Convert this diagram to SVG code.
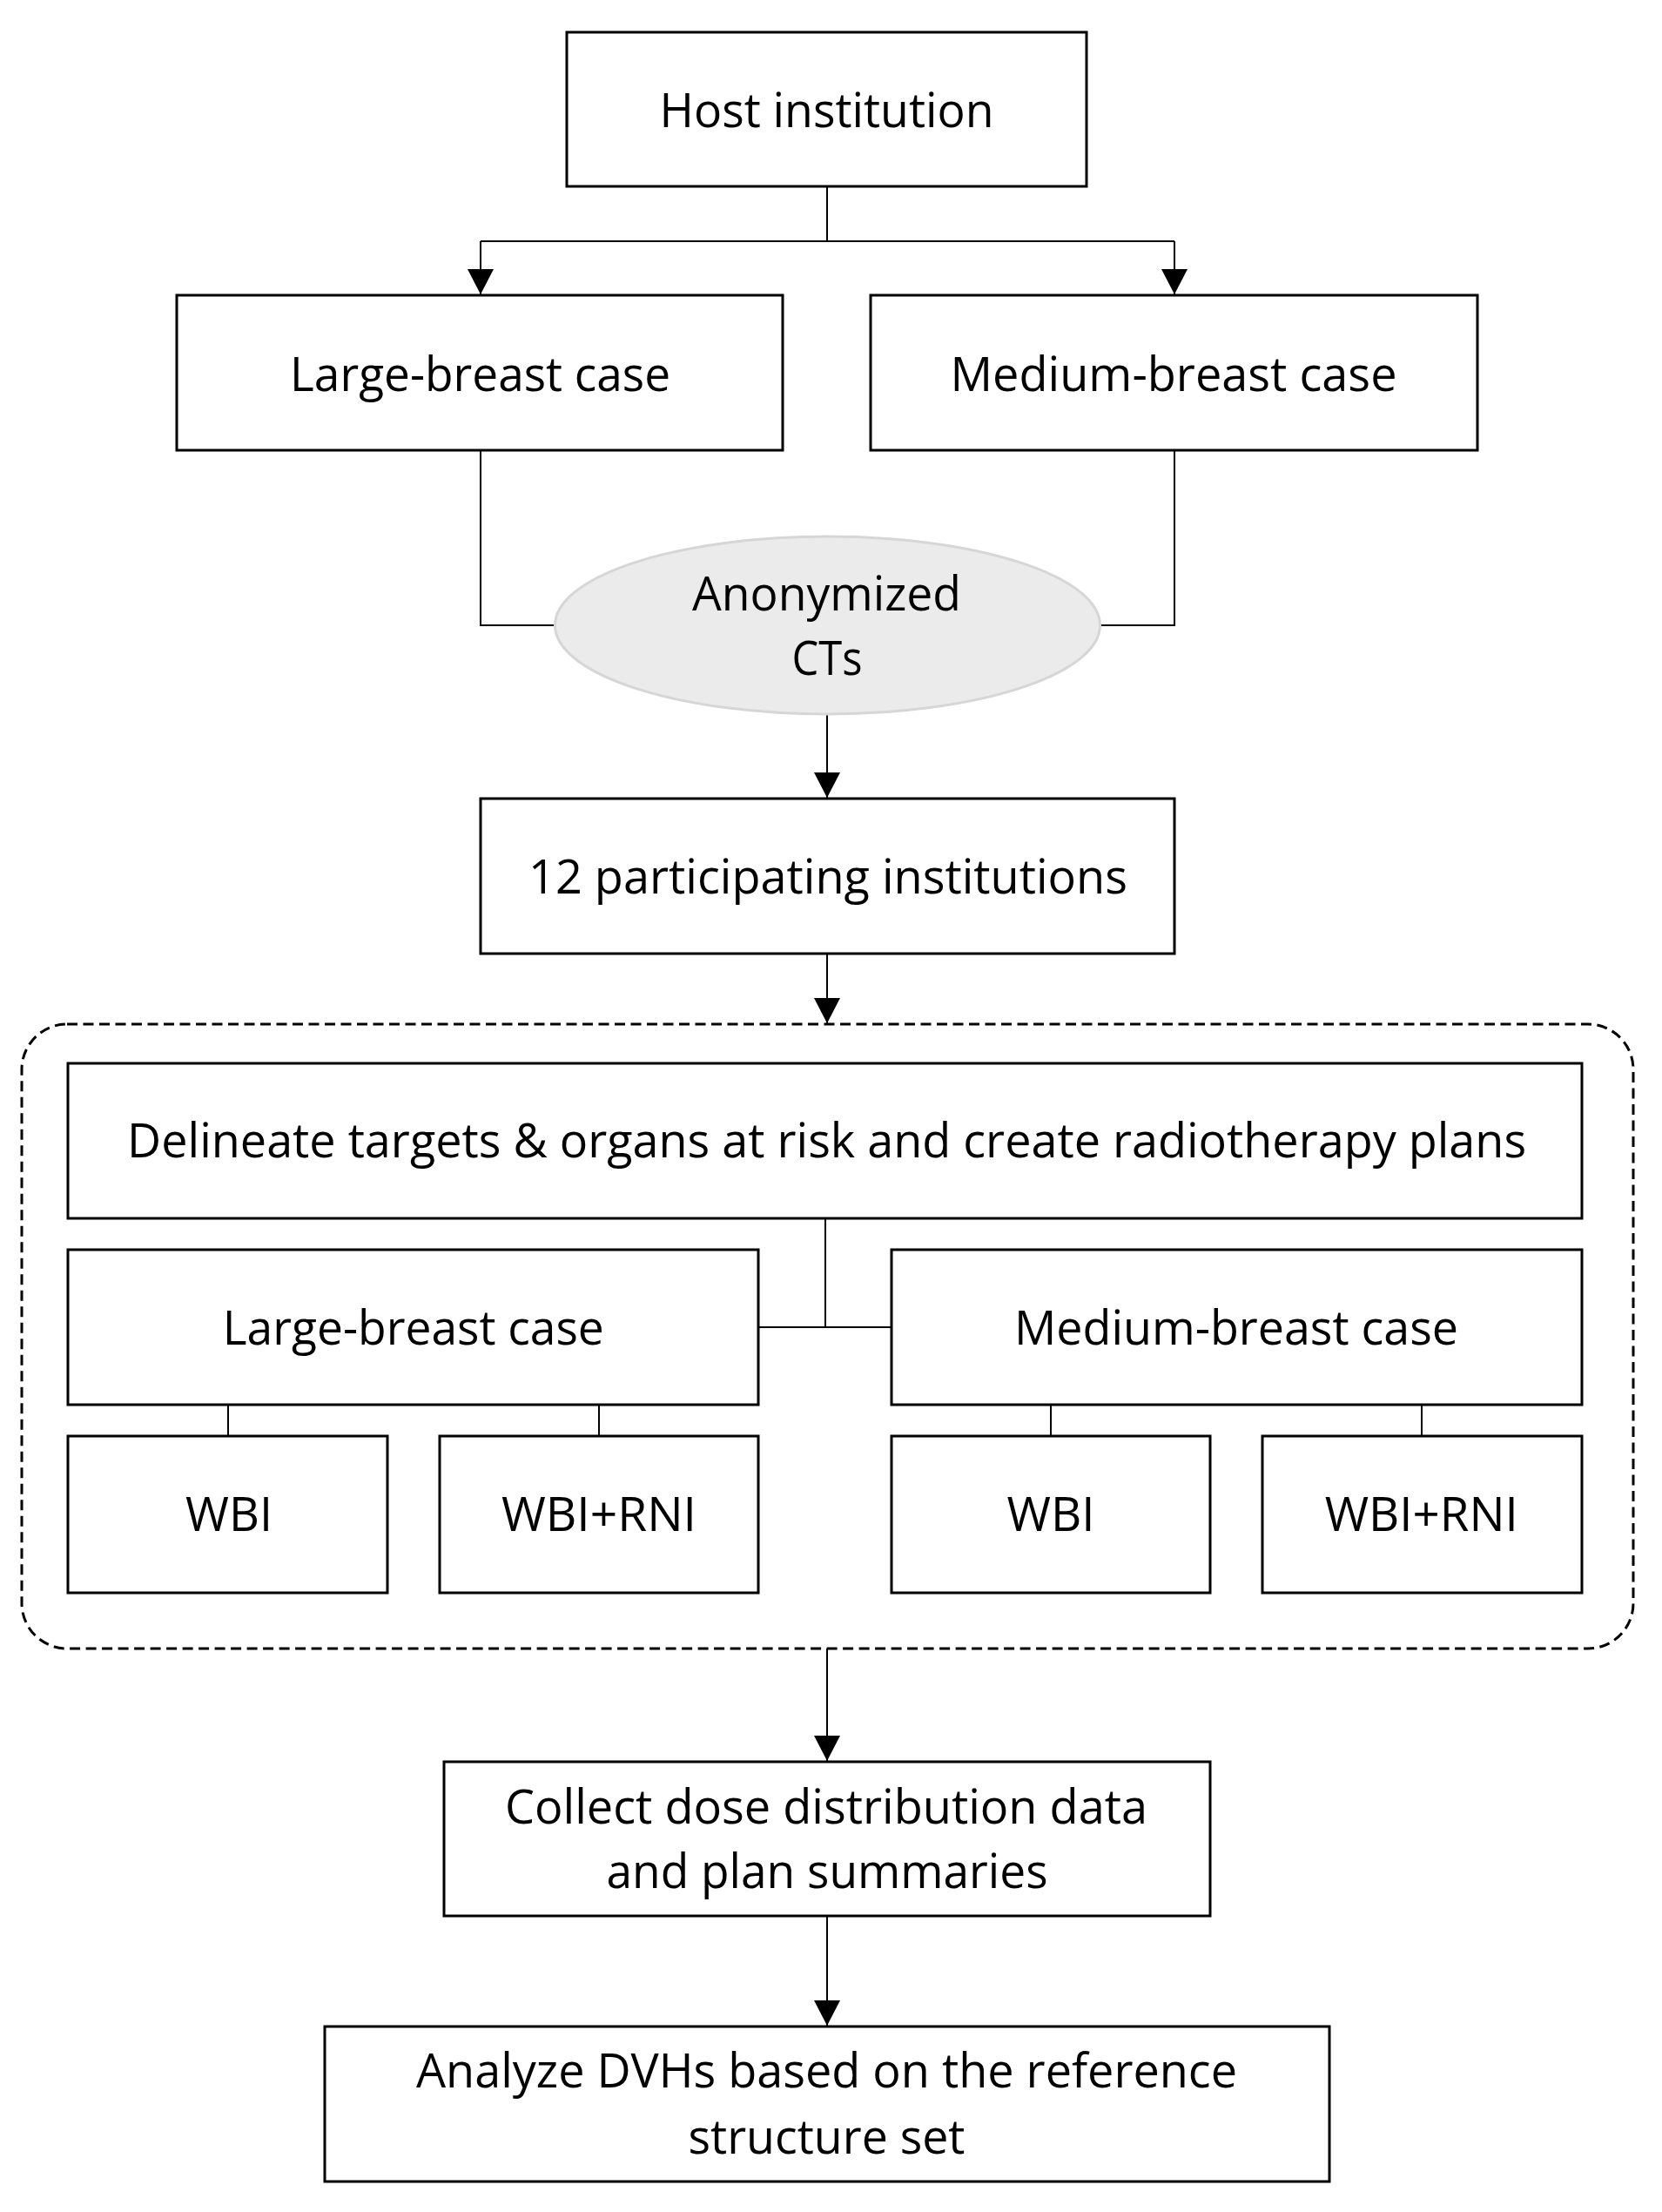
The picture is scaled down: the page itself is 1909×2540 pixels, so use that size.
<svg xmlns="http://www.w3.org/2000/svg" width="1909" height="2540" viewBox="0 0 1909 2540">
<style>
.box{fill:#fff;stroke:#000;stroke-width:3}
.ell{fill:#ebebeb;stroke:#d6d6d6;stroke-width:3}
.grp{fill:none;stroke:#000;stroke-width:3;stroke-dasharray:12 6.5}
.ln{fill:none;stroke:#000;stroke-width:2}
.t{font-family:"Open Sans","Liberation Sans",sans-serif;font-size:55px;fill:#000;text-anchor:middle}
</style>
<defs>
<marker id="arr" markerUnits="userSpaceOnUse" markerWidth="30" markerHeight="30" refX="29" refY="15" orient="auto">
<path d="M0,0 L29,15 L0,30 z" fill="#000"/>
</marker>
</defs>
<rect width="1909" height="2540" fill="#fff"/>

<g id="connectors">
<path class="ln" d="M950,214 V277 M552,277 H1349"/>
<path class="ln" d="M552,277 V338" marker-end="url(#arr)"/>
<path class="ln" d="M1349,277 V338" marker-end="url(#arr)"/>
<path class="ln" d="M552,517 V718 H638"/>
<path class="ln" d="M1349,517 V718 H1263"/>
<path class="ln" d="M950,820 V916" marker-end="url(#arr)"/>
<path class="ln" d="M950,1095 V1175" marker-end="url(#arr)"/>
<path class="ln" d="M948,1399 V1524 M871,1524 H1024"/>
<path class="ln" d="M262,1613 V1649 M688,1613 V1649 M1207,1613 V1649 M1633,1613 V1649"/>
<path class="ln" d="M950,1893 V2022" marker-end="url(#arr)"/>
<path class="ln" d="M950,2200 V2326" marker-end="url(#arr)"/>
</g>

<g id="host">
<rect class="box" x="651" y="37" width="597" height="177"/>
<text class="t" x="949.5" y="146" textLength="384" lengthAdjust="spacingAndGlyphs">Host institution</text>
</g>
<g id="large-top">
<rect class="box" x="203" y="339" width="696" height="178"/>
<text class="t" x="551.6" y="449" textLength="437" lengthAdjust="spacingAndGlyphs">Large-breast case</text>
</g>
<g id="medium-top">
<rect class="box" x="1000" y="339" width="697" height="178"/>
<text class="t" x="1348" y="449" textLength="513" lengthAdjust="spacingAndGlyphs">Medium-breast case</text>
</g>
<g id="anon">
<ellipse class="ell" cx="950.5" cy="718" rx="313" ry="102"/>
<text class="t" x="949.5" y="701" textLength="309" lengthAdjust="spacingAndGlyphs">Anonymized</text>
<text class="t" x="950" y="774.6" textLength="81" lengthAdjust="spacingAndGlyphs">CTs</text>
</g>
<g id="participating">
<rect class="box" x="552" y="917" width="797" height="178"/>
<text class="t" x="951" y="1026" textLength="688" lengthAdjust="spacingAndGlyphs">12 participating institutions</text>
</g>
<g id="group">
<rect class="grp" x="25" y="1176" width="1851" height="717" rx="52" ry="52"/>
</g>
<g id="delineate">
<rect class="box" x="78" y="1221" width="1739" height="178"/>
<text class="t" x="949.6" y="1329" textLength="1607" lengthAdjust="spacingAndGlyphs">Delineate targets &amp; organs at risk and create radiotherapy plans</text>
</g>
<g id="large-inner">
<rect class="box" x="78" y="1435" width="793" height="178"/>
<text class="t" x="474.8" y="1543.5" textLength="438" lengthAdjust="spacingAndGlyphs">Large-breast case</text>
</g>
<g id="medium-inner">
<rect class="box" x="1024" y="1435" width="793" height="178"/>
<text class="t" x="1420" y="1543.5" textLength="510" lengthAdjust="spacingAndGlyphs">Medium-breast case</text>
</g>
<g id="large-wbi">
<rect class="box" x="78" y="1649" width="367" height="180"/>
<text class="t" x="263" y="1758" textLength="100" lengthAdjust="spacingAndGlyphs">WBI</text>
</g>
<g id="large-wbirni">
<rect class="box" x="505" y="1649" width="366" height="180"/>
<text class="t" x="688" y="1758" textLength="224" lengthAdjust="spacingAndGlyphs">WBI+RNI</text>
</g>
<g id="medium-wbi">
<rect class="box" x="1024" y="1649" width="366" height="180"/>
<text class="t" x="1207" y="1758" textLength="101" lengthAdjust="spacingAndGlyphs">WBI</text>
</g>
<g id="medium-wbirni">
<rect class="box" x="1450" y="1649" width="367" height="180"/>
<text class="t" x="1632.7" y="1758" textLength="222" lengthAdjust="spacingAndGlyphs">WBI+RNI</text>
</g>
<g id="collect">
<rect class="box" x="510" y="2023" width="880" height="177"/>
<text class="t" x="949" y="2094" textLength="738" lengthAdjust="spacingAndGlyphs">Collect dose distribution data</text>
<text class="t" x="950" y="2167.7" textLength="507" lengthAdjust="spacingAndGlyphs">and plan summaries</text>
</g>
<g id="analyze">
<rect class="box" x="373" y="2327" width="1154" height="178"/>
<text class="t" x="949.5" y="2397" textLength="943" lengthAdjust="spacingAndGlyphs">Analyze DVHs based on the reference</text>
<text class="t" x="949.5" y="2472.6" textLength="318" lengthAdjust="spacingAndGlyphs">structure set</text>
</g>
</svg>
